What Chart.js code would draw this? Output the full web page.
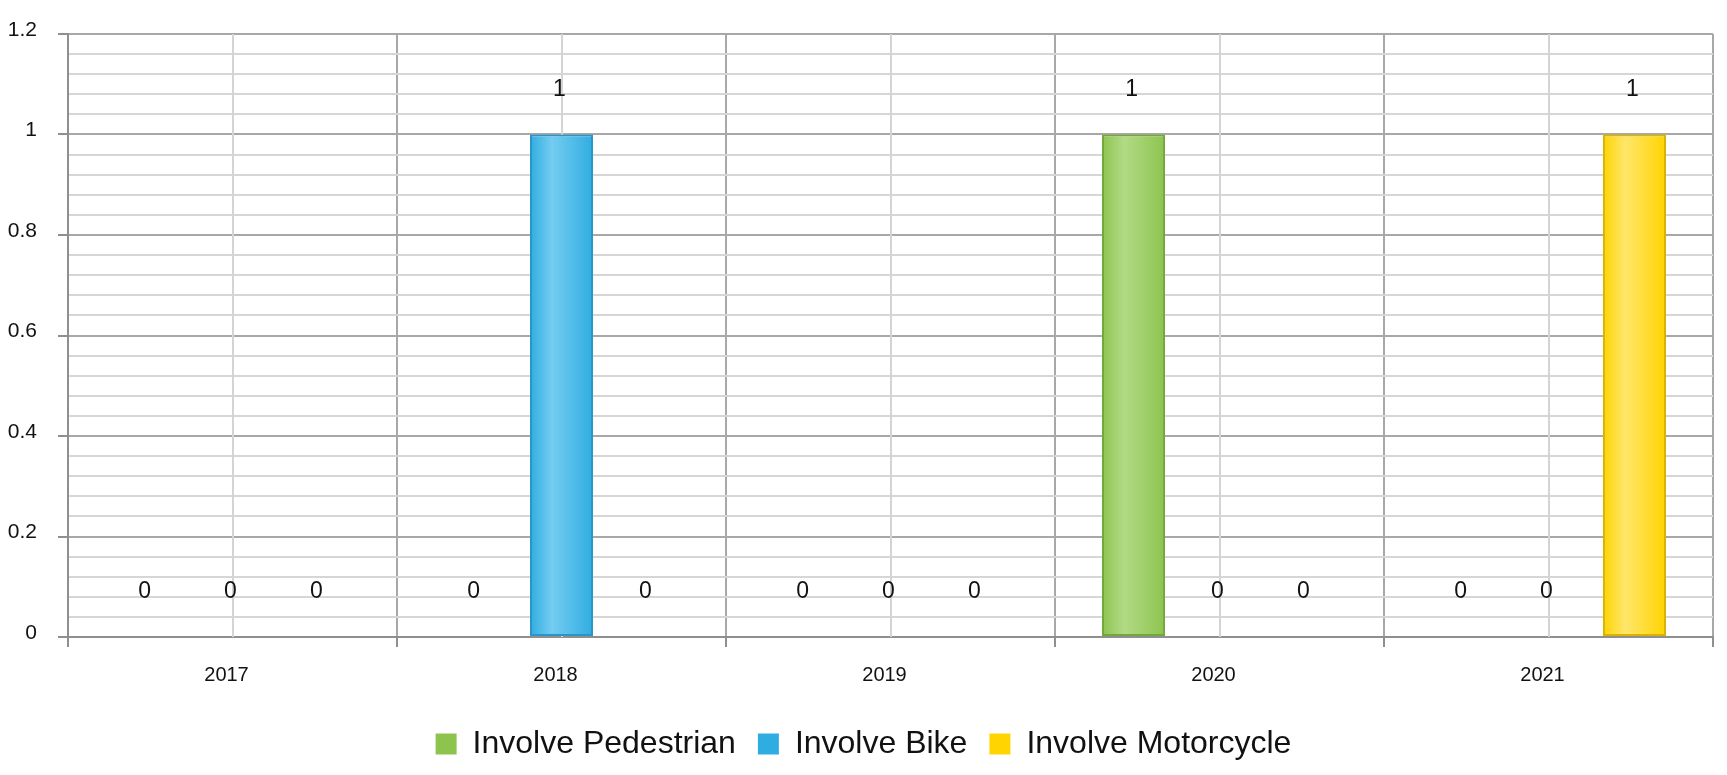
<!DOCTYPE html>
<html>
<head>
<meta charset="utf-8">
<script src="https://cdn.jsdelivr.net/npm/chart.js@4.4.1/dist/chart.umd.min.js"></script>
<style>
  html, body { margin: 0; padding: 0; background: #ffffff; }
  #wrap { width: 1727px; height: 775px; }
</style>
</head>
<body>
<div id="wrap"><canvas id="c" width="1727" height="775"></canvas></div>
<script>
const categories = ['2017', '2018', '2019', '2020', '2021'];
const seriesNames = ['Involve Pedestrian', 'Involve Bike', 'Involve Motorcycle'];
const pedestrian = [0, 0, 0, 1, 0];
const bike = [0, 1, 0, 0, 0];
const motorcycle = [0, 0, 0, 0, 1];
const yMin = 0;
const yMax = 1.2;
const yMinorStep = 0.04;
const yMajorStep = 0.2;

const FONT = "'Liberation Sans', Arial, Helvetica, sans-serif";
const baseColors = ['#8DC44E', '#2FADE1', '#FFD400'];
const lightColors = ['#B2DA86', '#74CCF1', '#FFE66A'];
const borderColors = ['#72A83A', '#2B94C8', '#D9B300'];

const isMajor = v => Math.abs(v / yMajorStep - Math.round(v / yMajorStep)) < 1e-6;

const gradientPlugin = {
  id: 'barGradient',
  beforeDatasetsDraw(chart) {
    const ctx = chart.ctx;
    chart.data.datasets.forEach((ds, di) => {
      const meta = chart.getDatasetMeta(di);
      meta.data.forEach(el => {
        const w = el.width || 1;
        const g = ctx.createLinearGradient(el.x - w / 2, 0, el.x + w / 2, 0);
        g.addColorStop(0, baseColors[di]);
        g.addColorStop(0.35, lightColors[di]);
        g.addColorStop(1, baseColors[di]);
        el.options.backgroundColor = g;
      });
    });
  }
};

const centerLinesPlugin = {
  id: 'centerLines',
  beforeDatasetsDraw(chart) {
    const ctx = chart.ctx;
    const xs = chart.scales.x;
    const area = chart.chartArea;
    ctx.save();
    ctx.strokeStyle = '#d4d4d4';
    ctx.lineWidth = 2;
    categories.forEach((c, i) => {
      const px = Math.round(xs.getPixelForValue(i));
      ctx.beginPath();
      ctx.moveTo(px, area.top);
      ctx.lineTo(px, area.bottom);
      ctx.stroke();
    });
    ctx.restore();
  }
};

const valueLabelPlugin = {
  id: 'valueLabels',
  afterDatasetsDraw(chart) {
    const ctx = chart.ctx;
    ctx.save();
    ctx.font = '23px ' + FONT;
    ctx.fillStyle = '#111111';
    ctx.textAlign = 'center';
    ctx.textBaseline = 'middle';
    chart.data.datasets.forEach((ds, di) => {
      const meta = chart.getDatasetMeta(di);
      meta.data.forEach((el, i) => {
        ctx.fillText(String(ds.data[i]), el.x - 2, el.y - 45);
      });
    });
    ctx.restore();
  }
};

const seriesData = [pedestrian, bike, motorcycle];
const datasets = seriesNames.map((name, i) => ({
  label: name,
  data: seriesData[i],
  backgroundColor: ctx => baseColors[ctx.datasetIndex],
  borderColor: borderColors[i],
  borderWidth: 2,
  borderSkipped: false,
  categoryPercentage: 0.784,
  barPercentage: 0.733
}));

new Chart(document.getElementById('c'), {
  type: 'bar',
  data: { labels: categories, datasets },
  options: {
    responsive: false,
    animation: false,
    layout: { padding: { left: 0, right: 0, top: 34, bottom: 5 } },
    plugins: {
      legend: {
        position: 'bottom',
        labels: {
          boxWidth: 21,
          boxHeight: 21,
          padding: 22,
          color: '#111111',
          font: { family: FONT, size: 32 },
          generateLabels(chart) {
            const items = Chart.defaults.plugins.legend.labels.generateLabels(chart);
            items.forEach((it, i) => {
              it.fillStyle = baseColors[i];
              it.strokeStyle = baseColors[i];
              it.lineWidth = 0;
            });
            return items;
          }
        }
      },
      tooltip: { enabled: false }
    },
    scales: {
      x: {
        offset: true,
        ticks: {
          color: '#111111',
          font: { family: FONT, size: 20 },
          padding: 16,
          labelOffset: -6,
          maxRotation: 0
        },
        grid: {
          offset: true,
          color: '#a8a8a8',
          lineWidth: 2,
          tickLength: 10,
          tickColor: '#8f8f8f'
        },
        border: { color: '#8f8f8f', width: 2 },
        afterFit(scale) {
          scale.height = 69;
          scale.paddingLeft = 0;
          scale.paddingRight = 0;
        }
      },
      y: {
        min: yMin,
        max: yMax,
        ticks: {
          stepSize: yMinorStep,
          autoSkip: false,
          color: '#111111',
          font: { family: FONT, size: 21 },
          padding: 21,
          labelOffset: -4,
          callback: v => isMajor(v) ? String(Math.round(v * 10) / 10) : ''
        },
        grid: {
          color: ctx => (ctx.tick && isMajor(ctx.tick.value)) ? '#a8a8a8' : '#d6d6d6',
          lineWidth: 2,
          tickLength: 10,
          tickColor: ctx => (ctx.tick && isMajor(ctx.tick.value)) ? '#8f8f8f' : 'rgba(0,0,0,0)'
        },
        border: { color: '#8f8f8f', width: 2 },
        afterFit(scale) {
          scale.width = 68;
          scale.paddingTop = 0;
          scale.paddingBottom = 0;
        }
      },
      yRightSpace: {
        position: 'right',
        display: true,
        min: 0,
        max: 1,
        ticks: { display: false },
        grid: { display: false, drawTicks: false },
        border: { display: false },
        afterFit(scale) {
          scale.width = 14;
          scale.paddingTop = 0;
          scale.paddingBottom = 0;
        }
      }
    }
  },
  plugins: [gradientPlugin, centerLinesPlugin, valueLabelPlugin]
});
</script>
</body>
</html>
